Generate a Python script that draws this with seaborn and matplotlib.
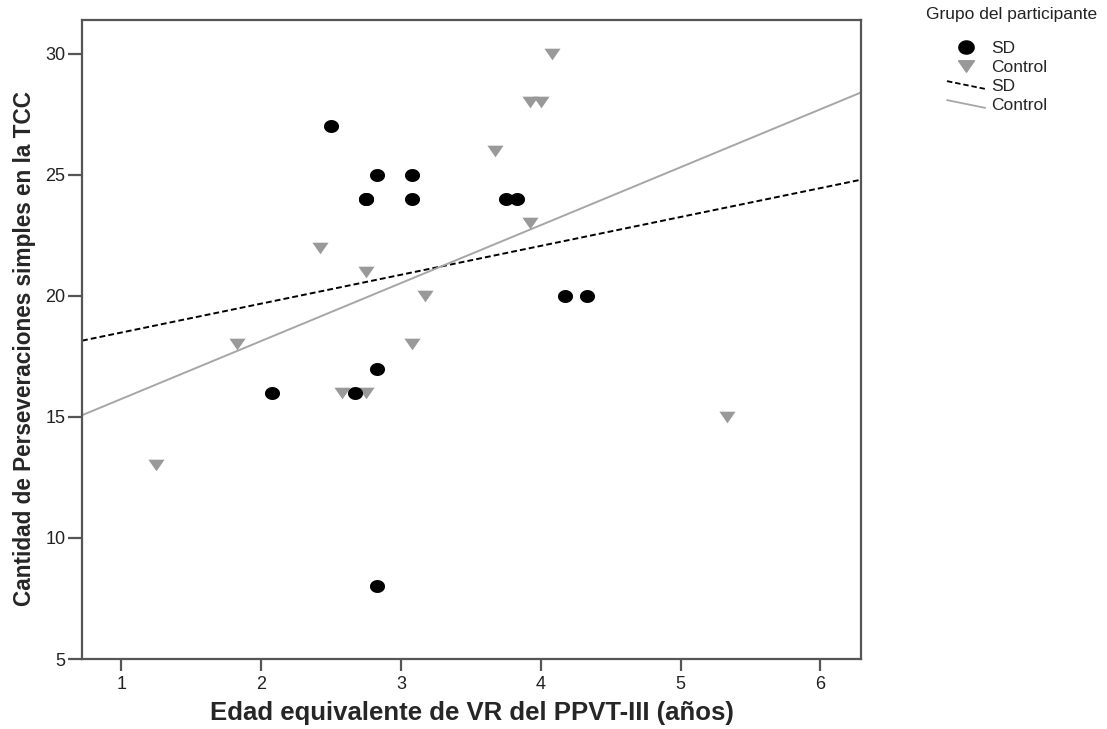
import matplotlib
matplotlib.use("Agg")
import matplotlib.pyplot as plt
from matplotlib.lines import Line2D
from matplotlib.legend_handler import HandlerLine2D
import seaborn as sns
import pandas as pd
import numpy as np

# ---- data ----
sd_x = [2.50, 2.83, 3.08, 2.75, 2.75, 3.08, 3.75, 3.83, 4.17, 4.33, 2.08, 2.67, 2.83, 2.83]
sd_y = [27, 25, 25, 24, 24, 24, 24, 24, 20, 20, 16, 16, 17, 8]
ctl_x = [4.08, 3.92, 4.00, 3.67, 3.92, 2.42, 2.75, 3.17, 1.83, 3.08, 2.58, 2.75, 1.25, 5.33]
ctl_y = [30, 28, 28, 26, 23, 22, 21, 20, 18, 18, 16, 16, 13, 15]
groups = ["SD", "Control"]
x_ticks = [1, 2, 3, 4, 5, 6]
y_ticks = [5, 10, 15, 20, 25, 30]
x_label = "Edad equivalente de VR del PPVT-III (años)"
y_label = "Cantidad de Perseveraciones simples en la TCC"
legend_title = "Grupo del participante"

df = pd.DataFrame({
    "x": sd_x + ctl_x,
    "y": sd_y + ctl_y,
    "grupo": [groups[0]] * len(sd_x) + [groups[1]] * len(ctl_x),
})

sns.set_theme(style="white")
plt.rcParams["font.family"] = ["Liberation Sans", "DejaVu Sans"]

W, H = 1107, 729
fig = plt.figure(figsize=(W / 100, H / 100), dpi=100)
L, R, T, B = 82, 861, 20, 659
ax = fig.add_axes([L / W, 1 - B / H, (R - L) / W, (B - T) / H])
ax.set_xlim(0.72, 6.29)
ax.set_ylim(5, 31.4)

# marker shapes: slightly flattened circle and flattened down-triangle
th = np.linspace(0, 2 * np.pi, 41)
ellipse = np.column_stack([np.cos(th), 0.86 * np.sin(th)])
tri = np.array([[-1.0, 0.72], [1.0, 0.72], [0.0, -0.72], [-1.0, 0.72]])

pt_col = {"SD": "black", "Control": "#999999"}
line_col = {"SD": "black", "Control": "#a6a6a6"}
markers = {"SD": ellipse, "Control": tri}
msize = {"SD": 118, "Control": 135}
dash = (0, (3, 1.6))

for g in groups:
    sub = df[df["grupo"] == g]
    sns.regplot(data=sub, x="x", y="y", ax=ax, ci=None, truncate=False,
                scatter=False,
                line_kws=dict(color=line_col[g], lw=1.4,
                              ls=dash if g == "SD" else "-", zorder=2))

for g in groups[::-1]:
    sub = df[df["grupo"] == g]
    sns.scatterplot(data=sub, x="x", y="y", ax=ax, color=pt_col[g],
                    marker=markers[g], s=msize[g], linewidth=0, zorder=3,
                    legend=False)

ax.set_xlim(0.72, 6.29)
ax.set_ylim(5, 31.4)
ax.set_xticks(x_ticks)
ax.set_yticks(y_ticks)
ax.set_xticklabels([str(v) for v in x_ticks])
ax.set_yticklabels([str(v) for v in y_ticks])

for s in ax.spines.values():
    s.set_color("#555555")
    s.set_linewidth(1.6)

ax.tick_params(axis="both", which="major", direction="out", width=1.6,
               color="#555555", labelsize=13, labelcolor="#222222")
ax.tick_params(axis="x", length=8.5, pad=3.5)
ax.tick_params(axis="y", length=10, pad=2)
ax.xaxis.set_ticks_position("bottom")
ax.yaxis.set_ticks_position("left")

ax.set_xlabel(x_label, fontsize=18.5, fontweight="bold")
ax.xaxis.label.set_va("baseline")
ax.xaxis.set_label_coords(0.5, (B - 720) / (B - T))
ax.set_ylabel(y_label, fontsize=16.3, fontweight="bold")
ax.yaxis.label.set_va("center")
ax.yaxis.set_label_coords((25 - L) / (R - L), (B - 348) / (B - T))


class SlantHandler(HandlerLine2D):
    def create_artists(self, legend, orig_handle, xdescent, ydescent,
                       width, height, fontsize, trans):
        x0, x1 = -xdescent, -xdescent + width
        yc = height / 2 - ydescent
        line = Line2D([x0, x1], [yc + 0.32 * height, yc - 0.32 * height])
        self.update_prop(line, orig_handle, legend)
        line.set_transform(trans)
        return [line]


handles = [
    Line2D([], [], marker=ellipse, color="black", ls="", markersize=11),
    Line2D([], [], marker=tri, color="#999999", ls="", markersize=11.5),
    Line2D([], [], color="black", ls=dash, lw=1.3),
    Line2D([], [], color="#a6a6a6", ls="-", lw=1.3),
]
labels = ["SD", "Control", "SD", "Control"]
leg = fig.legend(handles, labels, loc="upper left",
                 bbox_to_anchor=(947 / W, 1 - 41 / H), frameon=False,
                 fontsize=12.5, handlelength=2.2,
                 handletextpad=0.35, labelspacing=0.22, borderaxespad=0,
                 borderpad=0,
                 handler_map={handles[2]: SlantHandler(),
                              handles[3]: SlantHandler()})
fig.text(1097 / W, 1 - 15 / H, legend_title, ha="right", va="center",
         fontsize=12.5, color="#222222")

fig.savefig("out.png", dpi=100)
